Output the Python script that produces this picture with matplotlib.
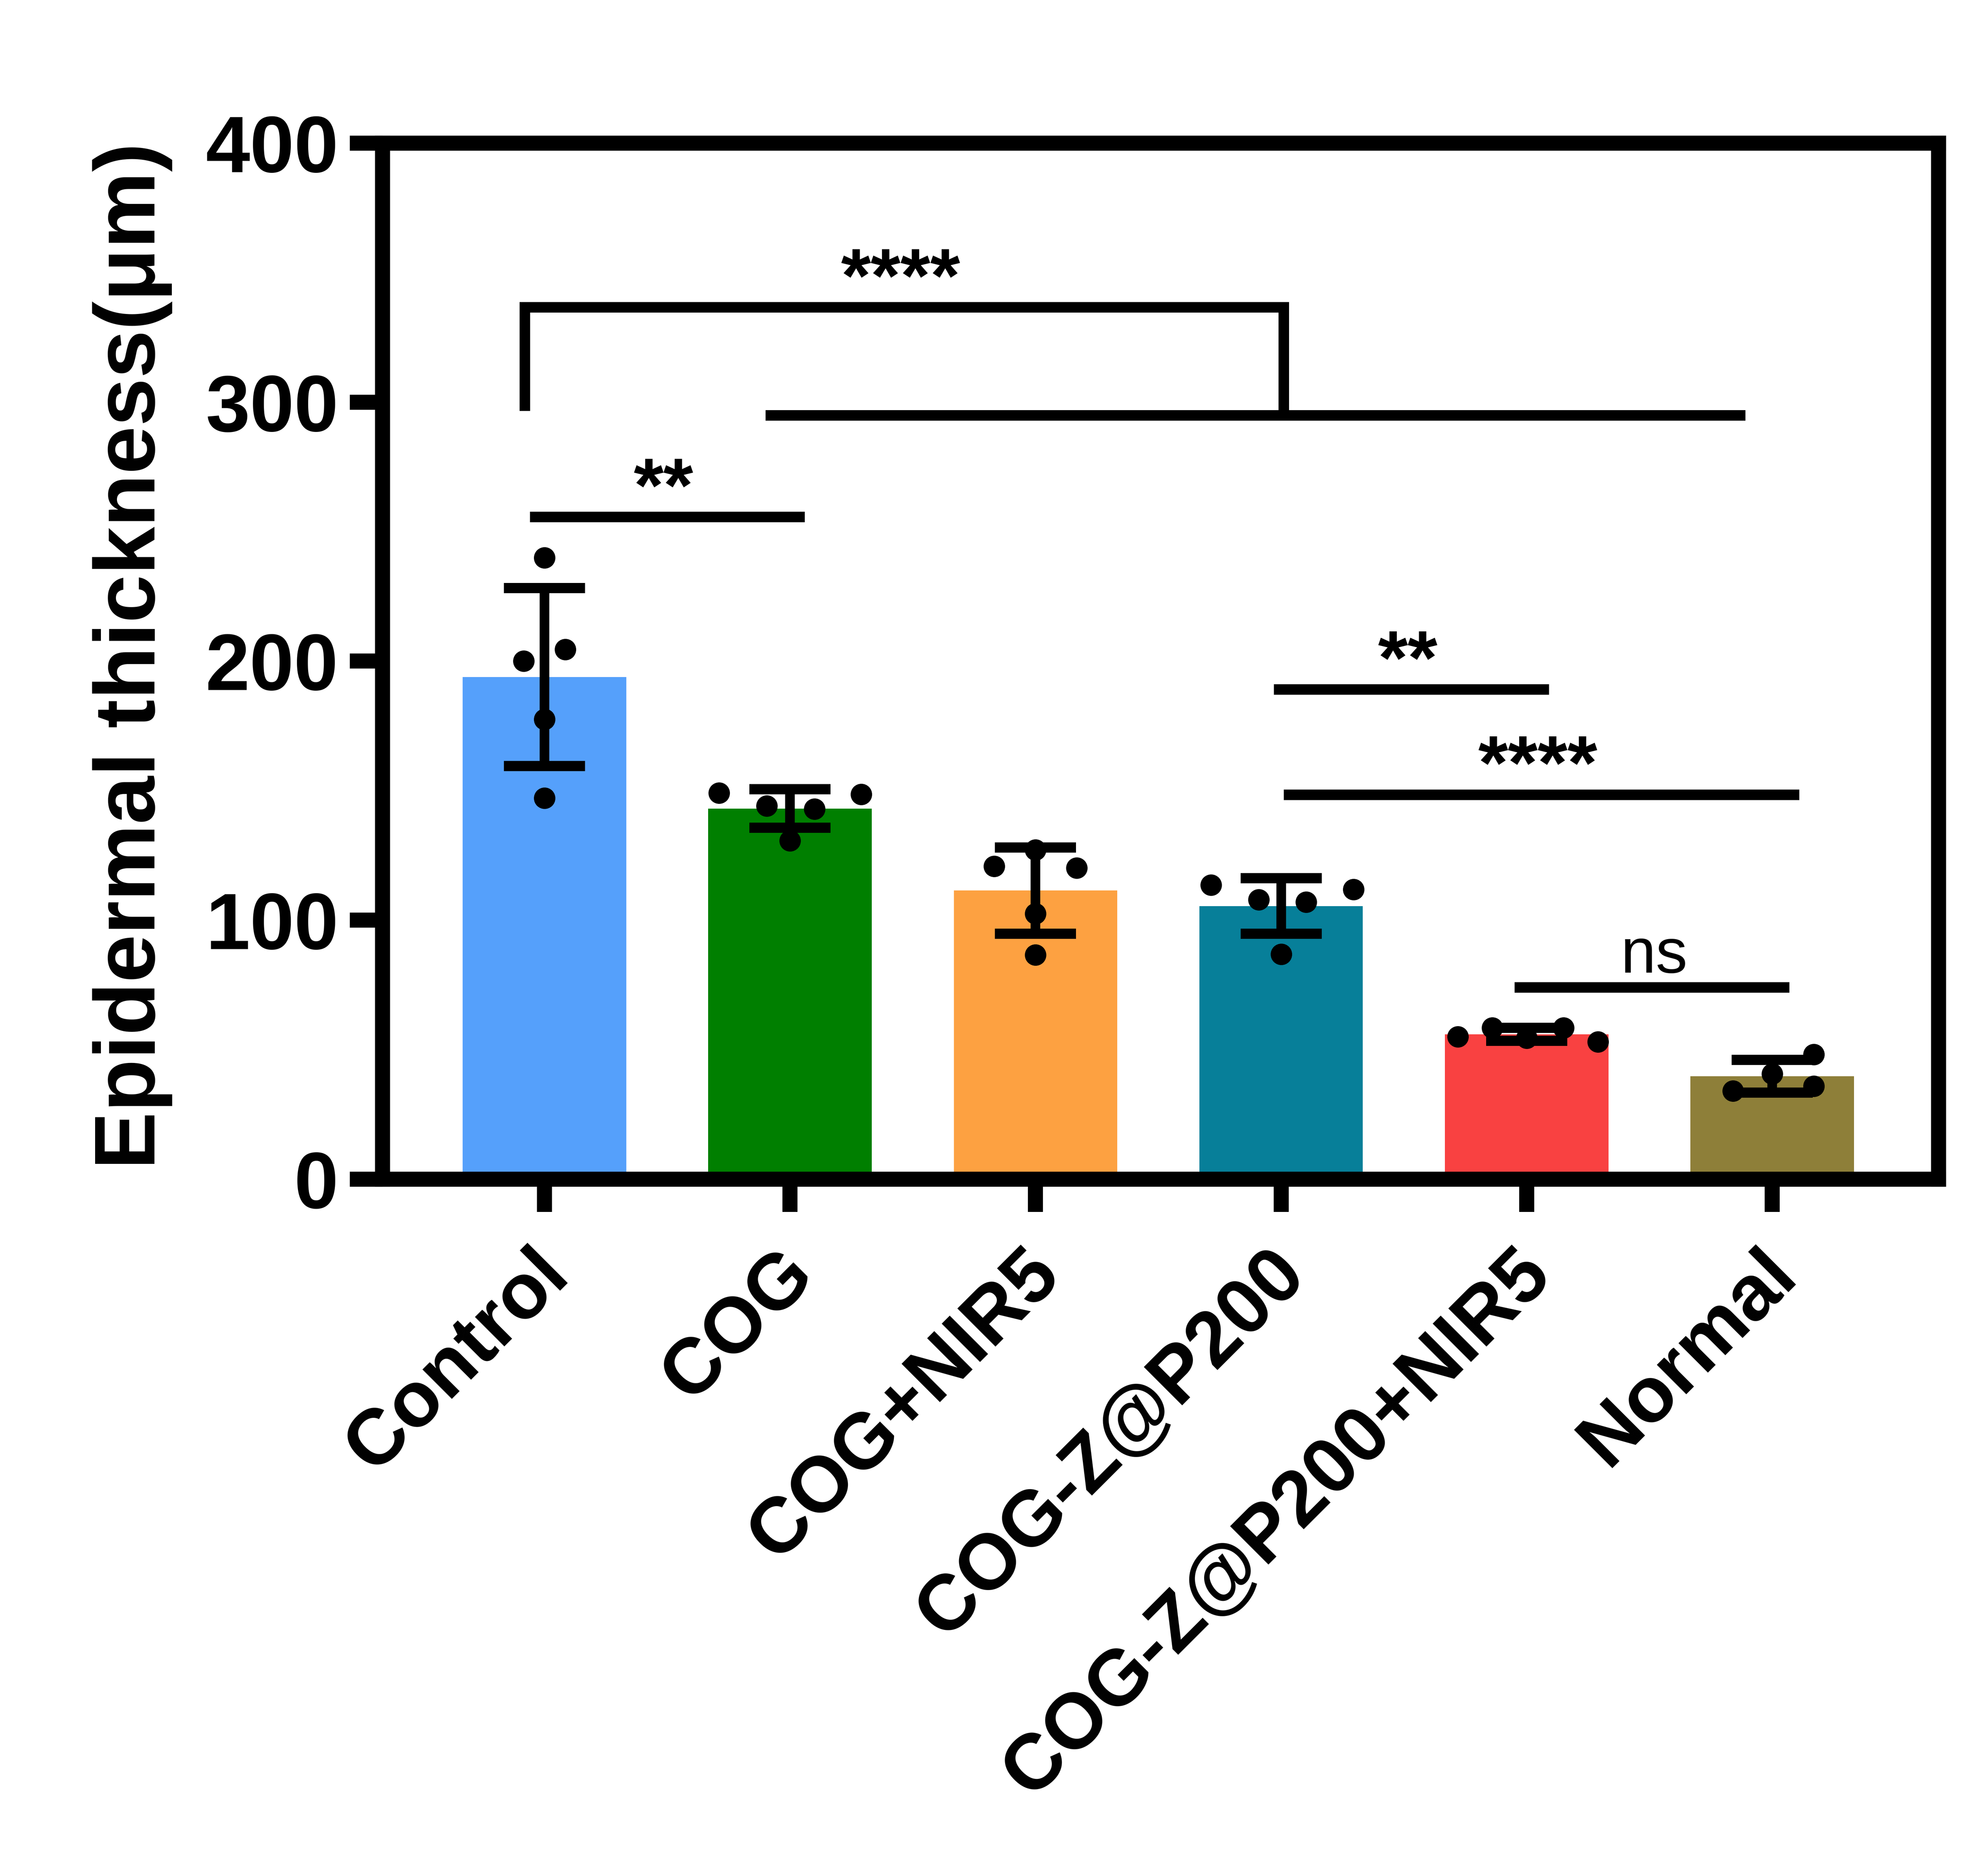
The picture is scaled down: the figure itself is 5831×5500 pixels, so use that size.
import numpy as np
import matplotlib
matplotlib.use("Agg")
import matplotlib.pyplot as plt
from matplotlib.transforms import ScaledTranslation, blended_transform_factory

plt.rcParams['font.family'] = ['Liberation Sans', 'DejaVu Sans']

# groups and bar colours
groups = ["Control", "COG", "COG+NIR5", "COG-Z@P200", "COG-Z@P200+NIR5", "Normal"]
colors = ["#55A0FB", "#007F00", "#FDA141", "#077F99", "#F94141", "#8E7F39"]

control = [240.0, 200.1, 204.5, 177.6, 147.1]
cog = [149.1, 144.1, 142.9, 148.6, 130.7]
cog_nir5 = [127.2, 120.8, 120.2, 102.5, 86.6]
cog_z = [113.6, 107.9, 107.0, 111.9, 86.9]
cog_z_nir5 = [55.0, 58.5, 54.5, 58.5, 53.0]
normal = [34.1, 40.7, 48.2, 35.9]

# sideways spread of the dots (prism scatter layout)
control_dx = [0, -0.084, 0.085, 0, 0]
cog_dx = [-0.289, -0.094, 0.10, 0.29, 0]
cog_nir5_dx = [0, -0.169, 0.167, 0, 0]
cog_z_dx = [-0.285, -0.091, 0.102, 0.295, 0]
cog_z_nir5_dx = [-0.28, -0.14, 0, 0.15, 0.29]
normal_dx = [-0.16, 0, 0.17, 0.17]

# significance lines
sig_labels = ["**", "**", "****", "ns"]
sig_x0 = [-0.06, 2.97, 3.01, 3.95]
sig_x1 = [1.06, 4.09, 5.11, 5.07]
sig_y = [255.7, 189.1, 148.5, 74.1]

# Control vs all treated groups bracket
bracket_x = [-0.08, 3.01]
bracket_top = 336.7
bracket_left_bottom = 296.7
treated_x = [0.9, 4.89]
treated_y = 295.0

data = [control, cog, cog_nir5, cog_z, cog_z_nir5, normal]
spread = [control_dx, cog_dx, cog_nir5_dx, cog_z_dx, cog_z_nir5_dx, normal_dx]
means = [np.mean(d) for d in data]
sds = [np.std(d, ddof=1) for d in data]
x = np.arange(len(groups))

fig = plt.figure(figsize=(5831 / 600, 5500 / 600), dpi=600)
ax = fig.add_axes([0.19242, 0.37109, 0.97513 - 0.19242, 0.92364 - 0.37109])

ax.bar(x, means, width=0.666, color=colors, zorder=1)
ax.errorbar(x, means, yerr=sds, fmt='none', ecolor='black', elinewidth=3.4,
            capsize=14.3, capthick=3.6, zorder=2)
for i in range(len(groups)):
    ax.scatter(x[i] + np.array(spread[i]), data[i], s=57, color='black',
               linewidths=0, zorder=3)

lw_sig = 3.7
for lab, a, b, y in zip(sig_labels, sig_x0, sig_x1, sig_y):
    ax.plot([a, b], [y, y], color='black', lw=lw_sig, solid_capstyle='butt')
    if lab == "ns":
        ax.text((a + b) / 2 + 0.009, y + 5.7, lab, ha='center', va='baseline',
                fontsize=22.3)
    else:
        ax.text((a + b) / 2 - 0.015, y + 2.1, lab, ha='center', va='baseline',
                fontsize=27, fontweight='bold')

ax.plot([bracket_x[0], bracket_x[0], bracket_x[1], bracket_x[1]],
        [bracket_left_bottom, bracket_top, bracket_top, treated_y],
        color='black', lw=lw_sig, solid_capstyle='butt', solid_joinstyle='miter')
ax.plot(treated_x, [treated_y, treated_y], color='black', lw=lw_sig,
        solid_capstyle='butt')
ax.text(sum(bracket_x) / 2 - 0.015, bracket_top + 2.1, "****", ha='center',
        va='baseline', fontsize=27, fontweight='bold')

ax.set_xlim(-0.6595, 5.6776)
ax.set_ylim(0, 400)
ax.set_yticks([0, 100, 200, 300, 400])
ax.set_xticks(x)
for lab in ax.get_yticklabels():
    lab.set_fontsize(28)
    lab.set_fontweight('bold')
ax.tick_params(axis='both', direction='out', length=11.5, width=5.3, pad=4)
ax.tick_params(axis='x', labelbottom=False)

# slanted group names under the ticks
trans = blended_transform_factory(ax.transData, ax.transAxes) + \
    ScaledTranslation(-40 / 600, -168 / 600, fig.dpi_scale_trans)
for xi, name in zip(x, groups):
    ax.text(xi, 0, name, transform=trans, rotation=45, rotation_mode='anchor',
            ha='right', va='top', fontsize=27.7, fontweight='bold')

for sp in ax.spines.values():
    sp.set_linewidth(5.3)
    sp.set_capstyle('projecting')

ax.set_ylabel("Epidermal thickness(μm)", fontsize=30.4, fontweight='bold')
ax.yaxis.set_label_coords(-0.135, 0.505)

fig.savefig("out.png", dpi=600)
